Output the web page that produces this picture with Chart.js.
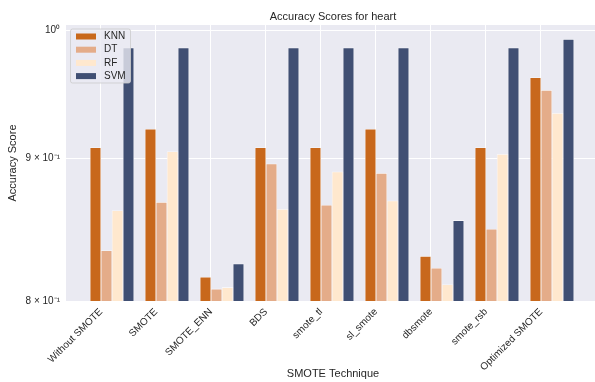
<!DOCTYPE html>
<html>
<head>
<meta charset="utf-8">
<script src="https://cdn.jsdelivr.net/npm/chart.js@4.4.1/dist/chart.umd.min.js"></script>
<style>
  html, body { margin: 0; padding: 0; background: #fff; overflow: hidden; }
  .container { position: relative; width: 600px; height: 382px; }
</style>
</head>
<body>
<div class="container"><canvas id="accChart" width="600" height="382"></canvas></div>
<script>
// accuracy per oversampling technique, one array per model
const techniques = ['Without SMOTE', 'SMOTE', 'SMOTE_ENN', 'BDS', 'smote_tl', 'sl_smote', 'dbsmote', 'smote_rsb', 'Optimized SMOTE'];
const knnScores = [0.908, 0.922, 0.816, 0.908, 0.908, 0.922, 0.830, 0.908, 0.962];
const dtScores  = [0.834, 0.868, 0.808, 0.896, 0.866, 0.889, 0.822, 0.849, 0.952];
const rfScores  = [0.862, 0.905, 0.809, 0.863, 0.890, 0.869, 0.811, 0.903, 0.934];
const svmScores = [0.986, 0.986, 0.825, 0.986, 0.986, 0.986, 0.855, 0.986, 0.993];
const yTicks = [0.8, 0.9, 1.0];
const yTickLabels = ['8 × 10⁻¹', '9 × 10⁻¹', '10⁰'];

const textColor = '#262626';
const fontFamily = "'Liberation Sans', Arial, sans-serif";

// bars sit at i-0.1, i+0.1, i+0.3, i+0.5 (width 0.2)
function series(label, scores, color, shift) {
  return {
    label: label,
    data: scores.map((v, i) => ({ x: i + shift, y: v })),
    backgroundColor: color,
    borderColor: 'rgba(255,255,255,0.6)',
    borderWidth: 0.8,
    grouped: false,
    barPercentage: 1,
    categoryPercentage: 1
  };
}

const datasets = [
  series('KNN', knnScores, '#C8681C', -0.1),
  series('DT', dtScores, '#E4AC89', 0.1),
  series('RF', rfScores, '#FFE8CE', 0.3),
  series('SVM', svmScores, '#404F73', 0.5)
];

// plot background
const plotBackground = {
  id: 'plotBackground',
  beforeDraw(chart) {
    const { ctx, chartArea: a } = chart;
    ctx.save();
    ctx.fillStyle = '#fff';
    ctx.fillRect(0, 0, chart.width, chart.height);
    ctx.fillStyle = '#EAEAF2';
    ctx.fillRect(a.left, a.top, a.right - a.left, a.bottom - a.top);
    ctx.restore();
  }
};

// title centred over the axes
const axesTitle = {
  id: 'axesTitle',
  afterDraw(chart) {
    const { ctx, chartArea: a } = chart;
    ctx.save();
    ctx.font = '11px ' + fontFamily;
    ctx.fillStyle = textColor;
    ctx.textAlign = 'center';
    ctx.textBaseline = 'middle';
    ctx.fillText('Accuracy Scores for heart', (a.left + a.right) / 2, 17);
    ctx.restore();
  }
};

// legend box in the upper left corner of the axes
const innerLegend = {
  id: 'innerLegend',
  afterDatasetsDraw(chart) {
    const { ctx, chartArea: a } = chart;
    const x = a.left + 4.5, y = a.top + 4, w = 60, h = 54;
    ctx.save();
    ctx.fillStyle = 'rgba(234,234,242,0.8)';
    ctx.strokeStyle = 'rgba(204,204,204,0.8)';
    ctx.lineWidth = 1;
    ctx.beginPath();
    ctx.roundRect(x, y, w, h, 2);
    ctx.fill();
    ctx.stroke();
    ctx.font = '10px ' + fontFamily;
    ctx.textBaseline = 'middle';
    chart.data.datasets.forEach((ds, i) => {
      const rowY = y + 7.5 + i * 13.2;
      ctx.fillStyle = ds.backgroundColor;
      ctx.fillRect(x + 5.5, rowY - 3, 20, 6);
      ctx.fillStyle = textColor;
      ctx.fillText(ds.label, x + 33.5, rowY);
    });
    ctx.restore();
  }
};

new Chart(document.getElementById('accChart').getContext('2d'), {
  type: 'bar',
  data: { datasets: datasets },
  options: {
    responsive: false,
    animation: false,
    layout: { padding: { top: 25, left: 0, right: 0, bottom: 0 } },
    plugins: {
      legend: { display: false },
      tooltip: { enabled: false }
    },
    scales: {
      x: {
        type: 'linear',
        offset: false,
        min: -0.636,
        max: 9.073,
        afterBuildTicks: s => { s.ticks = techniques.map((_, i) => ({ value: i })); },
        afterFit: s => { s.height = 81; s.paddingLeft = 0; s.paddingRight = 0; },
        grid: { color: '#fff', lineWidth: 1, drawTicks: false, offset: false },
        border: { display: false },
        ticks: {
          autoSkip: false,
          minRotation: 45,
          maxRotation: 45,
          padding: 5,
          color: textColor,
          font: { size: 10, family: fontFamily },
          callback: v => techniques[Math.round(v)]
        },
        title: {
          display: true,
          text: 'SMOTE Technique',
          color: textColor,
          font: { size: 11, family: fontFamily },
          padding: { top: 0, bottom: 1 }
        }
      },
      y: {
        type: 'logarithmic',
        min: 0.8,
        max: 1.0047,
        afterBuildTicks: s => { s.ticks = yTicks.map(v => ({ value: v })); },
        afterFit: s => { s.width = 66; },
        grid: { color: '#fff', lineWidth: 1, drawTicks: false },
        border: { display: false },
        ticks: {
          padding: 6,
          color: textColor,
          font: { size: 10, family: fontFamily },
          callback: v => {
            const k = yTicks.findIndex(t => Math.abs(t - v) < 1e-6);
            return k >= 0 ? yTickLabels[k] : '';
          }
        },
        title: {
          display: true,
          text: 'Accuracy Score',
          color: textColor,
          font: { size: 11, family: fontFamily },
          padding: { top: 6, bottom: 0 }
        }
      }
    }
  },
  plugins: [plotBackground, axesTitle, innerLegend]
});
</script>
</body>
</html>
